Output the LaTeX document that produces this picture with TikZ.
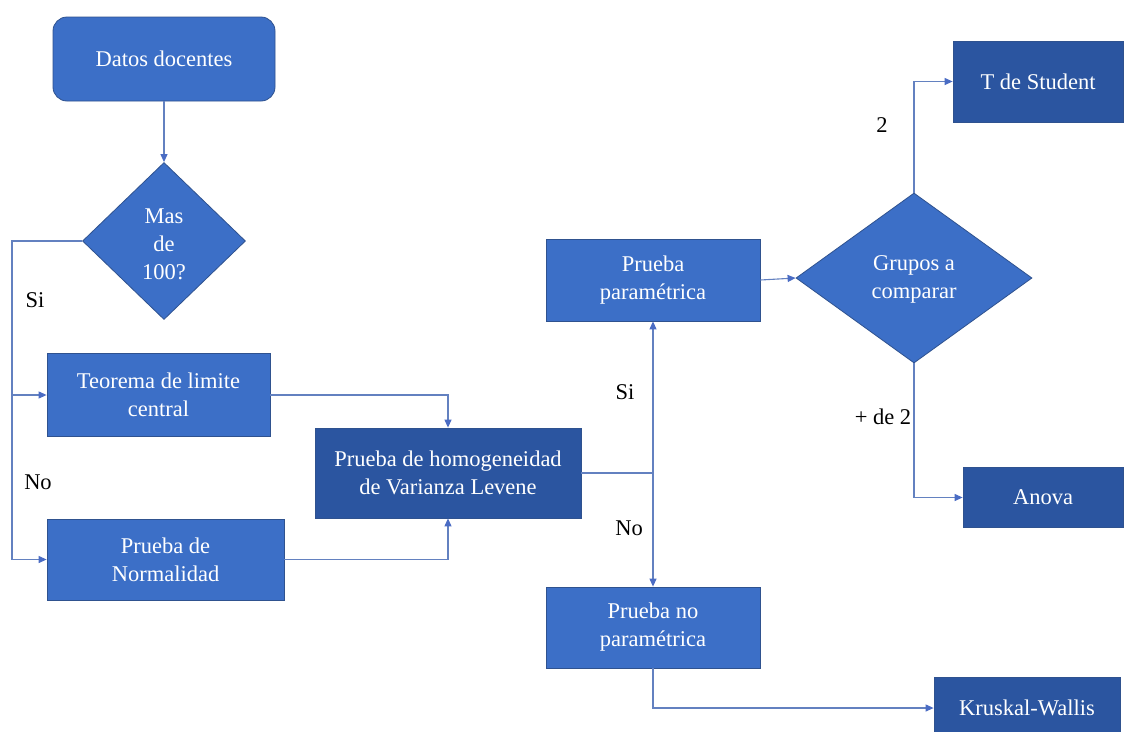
\documentclass[tikz,border=0pt]{standalone}
\usepackage{fontspec}
\setmainfont{LiberationSerif}[Extension=.ttf, UprightFont=*-Regular, BoldFont=*-Bold]
\usetikzlibrary{shapes.geometric,arrows.meta}
\definecolor{boxblue}{HTML}{3C6FC7}
\definecolor{deepblue}{HTML}{2B55A0}
\definecolor{edgeblue}{HTML}{2F528F}
\definecolor{wireblue}{HTML}{6381C0}
\definecolor{tipblue}{HTML}{4A6CC4}
\tikzset{
  every node/.style={font=\rmfamily\fontsize{22.5}{28}\selectfont},
  stepbox/.style={rectangle, fill=boxblue, draw=edgeblue, line width=0.8pt,
    text=white, align=center, inner sep=0pt},
  darkbox/.style={stepbox, fill=deepblue},
  choice/.style={diamond, fill=boxblue, draw=edgeblue, line width=0.8pt,
    inner sep=0pt},
  choicetext/.style={text=white, align=center, inner sep=0pt},
  wire/.style={draw=wireblue, line width=1.1pt,
    -{Triangle[length=8pt,width=7pt,fill=tipblue,color=tipblue]}},
  tag/.style={text=black, inner sep=0pt}
}
\begin{document}
\begin{tikzpicture}[x=1pt,y=-1pt]
\useasboundingbox[fill=white] (0,0) rectangle (1139,731);

% start
\node[stepbox, rounded corners=14pt, minimum width=222pt, minimum height=84pt]
  (datos) at (164,59) {Datos docentes};

% first decision
\node[choice, minimum width=163pt, minimum height=157pt] (d1) at (164,241) {};
\node[choicetext] (d1t) at (164,244) {Mas\\de\\100?};

% left column
\node[stepbox, minimum width=223pt, minimum height=83pt]
  (teorema) at (158.5,395) {Teorema de limite\\central};
\node[stepbox, minimum width=237pt, minimum height=81pt]
  (normal) at (165.5,559.5) {Prueba de\\Normalidad};
\node[darkbox, minimum width=266pt, minimum height=90pt]
  (levene) at (448,473) {Prueba de homogeneidad\\de Varianza Levene};

% middle column
\node[stepbox, minimum width=214pt, minimum height=82pt]
  (para) at (653,280) {Prueba\\paramétrica};
\node[stepbox, minimum width=214pt, minimum height=81pt]
  (nopara) at (653,627.5) {Prueba no\\paramétrica};

% second decision
\node[choice, minimum width=236pt, minimum height=170pt] (d2) at (914,278) {};
\node[choicetext] (d2t) at (914,279) {Grupos a\\comparar};

% results
\node[darkbox, minimum width=170pt, minimum height=81pt]
  (student) at (1038,81.5) {T de Student};
\node[darkbox, minimum width=160pt, minimum height=60pt]
  (anova) at (1043,497.5) {Anova};
\node[darkbox, minimum width=186pt, minimum height=62pt]
  (kruskal) at (1027,708) {Kruskal-Wallis};

% connectors
\coordinate (lx) at (12,241);
\draw[wire] (datos.south) -- (d1.north);
\draw[wire] (d1.west) -- (lx) |- (teorema.west);
\draw[wire] (d1.west) -- (lx) |- (normal.west);
\draw[wire] (teorema.east) -| (levene.north);
\draw[wire] (normal.east) -| (levene.south);
\draw[wire] (levene.east) -| (para.south);
\draw[wire] (levene.east) -| (nopara.north);
\draw[wire] (para.east) -- (d2.west);
\draw[wire] (d2.north) |- (student.west);
\draw[wire] (d2.south) |- (anova.west);
\draw[wire] (nopara.south) |- (kruskal.west);

% branch labels
\node[tag] (si1) at (35,300) {Si};
\node[tag] (no1) at (38,482) {No};
\node[tag] (si2) at (625,392) {Si};
\node[tag] (no2) at (629,528) {No};
\node[tag] (two) at (882,125) {2};
\node[tag] (more) at (883,417) {+ de 2};
\end{tikzpicture}
\end{document}
